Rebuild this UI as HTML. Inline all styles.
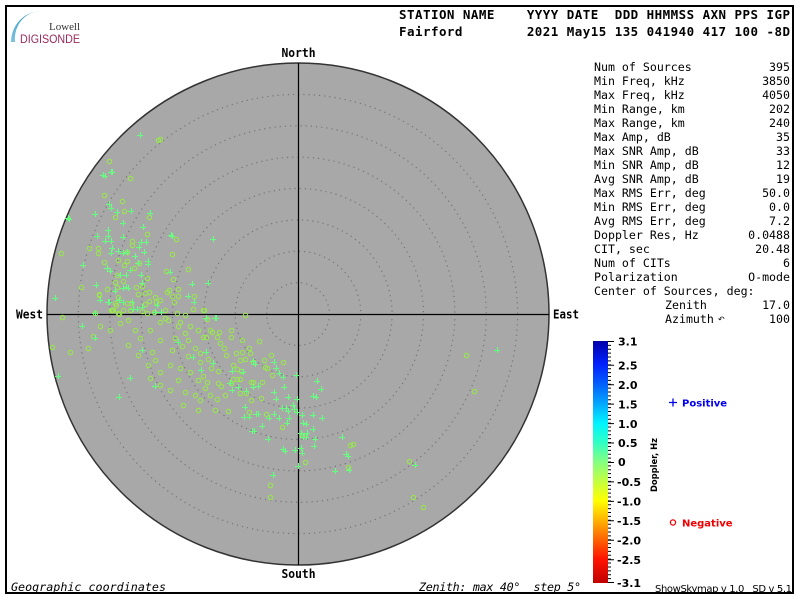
<!DOCTYPE html>
<html>
<head>
<meta charset="utf-8">
<style>
  html,body{margin:0;padding:0;background:#fff;}
  svg{display:block;}
  .pre{white-space:pre;}
</style>
</head>
<body>
<svg width="800" height="600" viewBox="0 0 800 600" xmlns="http://www.w3.org/2000/svg">
  <defs>
    <linearGradient id="cb" x1="0" y1="0" x2="0" y2="1">
      <stop offset="0" stop-color="#0000a8"/>
      <stop offset="0.097" stop-color="#0022ff"/>
      <stop offset="0.18" stop-color="#0062ff"/>
      <stop offset="0.26" stop-color="#00a8ff"/>
      <stop offset="0.34" stop-color="#00f4ff"/>
      <stop offset="0.42" stop-color="#30ffc4"/>
      <stop offset="0.5" stop-color="#84ff80"/>
      <stop offset="0.58" stop-color="#c4ff40"/>
      <stop offset="0.66" stop-color="#ffff00"/>
      <stop offset="0.74" stop-color="#ffb400"/>
      <stop offset="0.82" stop-color="#ff6400"/>
      <stop offset="0.9" stop-color="#ff1400"/>
      <stop offset="1" stop-color="#c00000"/>
    </linearGradient>
    <linearGradient id="arcg" x1="0" y1="1" x2="1" y2="0">
      <stop offset="0" stop-color="#7fc4e0"/>
      <stop offset="1" stop-color="#1f86b8"/>
    </linearGradient>
    <marker id="mc" markerWidth="8" markerHeight="8" refX="4" refY="4" markerUnits="userSpaceOnUse" overflow="visible">
      <path d="M1 4.5h6M4.5 1v6" fill="none" stroke="#66ff80" stroke-width="1.1"/>
    </marker>
    <marker id="mo" markerWidth="8" markerHeight="8" refX="4" refY="4" markerUnits="userSpaceOnUse" overflow="visible">
      <circle cx="4.5" cy="4.5" r="2.2" fill="none" stroke="#99e650" stroke-width="1.1"/>
    </marker>
  </defs>

  <rect x="0" y="0" width="800" height="600" fill="#fff"/>
  <!-- frame -->
  <rect x="6" y="6" width="787" height="587" fill="none" stroke="#000" stroke-width="2"/>

  <!-- logo -->
  <path d="M11 42 A31 31 0 0 1 40 11 A26 28 0 0 0 15 42 Z" fill="url(#arcg)"/>
  <text x="49" y="30" font-family="Liberation Serif, serif" font-size="11" fill="#333" textLength="31">Lowell</text>
  <text x="20" y="43" font-family="Liberation Sans, sans-serif" font-size="11.5" fill="#992a5e" textLength="60" lengthAdjust="spacingAndGlyphs">DIGISONDE</text>

  <!-- header -->
  <text class="pre" x="399" y="19" font-family="DejaVu Sans Mono, Liberation Mono, monospace" font-weight="bold" font-size="12.5" fill="#000" textLength="391" lengthAdjust="spacing">STATION NAME    YYYY DATE  DDD HHMMSS AXN PPS IGP</text>
  <text class="pre" x="399" y="36" font-family="DejaVu Sans Mono, Liberation Mono, monospace" font-weight="bold" font-size="12.5" fill="#000" textLength="391" lengthAdjust="spacing">Fairford        2021 May15 135 041940 417 100 -8D</text>

  <!-- plot circle -->
  <circle cx="298" cy="314" r="251" fill="#a8a8a8" stroke="#333" stroke-width="1.5"/>
  <g fill="none" stroke="#747474" stroke-width="1.2" stroke-dasharray="1.2 4">
    <circle cx="298" cy="314" r="31.4"/>
    <circle cx="298" cy="314" r="62.75"/>
    <circle cx="298" cy="314" r="94.1"/>
    <circle cx="298" cy="314" r="125.5"/>
    <circle cx="298" cy="314" r="156.9"/>
    <circle cx="298" cy="314" r="188.25"/>
    <circle cx="298" cy="314" r="219.6"/>
  </g>
  <line x1="298.5" y1="63" x2="298.5" y2="565" stroke="#000" stroke-width="1.2"/>
  <line x1="47" y1="314.5" x2="549" y2="314.5" stroke="#000" stroke-width="1.2"/>

  <!-- circles (negative doppler style markers) -->
  <polyline fill="none" stroke="none" marker-start="url(#mo)" marker-mid="url(#mo)" marker-end="url(#mo)" points="
  158,140 466,355 474,391 409,461 413,497 423,507 270,485 270,497 350,445 348,467 70,352 88,348 52,347
  160,139 109,161 130,178 104,195 122,201 124,211 115,217 149,217 147,234 176,239 89,248 98,248 98,253 132,241 132,245 127,252 172,254 61,253 104,262 118,260 127,261 124,265 139,263 134,268 188,269 166,271 117,275 115,282 123,281 117,287 147,278 173,279 142,286 81,287 136,287 167,292 169,290 178,289 99,294 107,289 138,294 145,293 149,292 155,297 172,296 178,296 194,296 118,297 127,303 131,303 115,303 160,300 156,302 174,302 149,301 145,304 111,310 113,310 123,310 119,314 142,311 147,313 165,310 154,312 177,313 204,310 193,309 62,317
  99,295 95,313 112,310 116,305 118,313
  203,310 245,315 207,319 210,330 212,332 219,332 231,330 203,337 206,337 217,337 231,337 242,340 259,341 220,343 200,353 224,348 226,355 236,353 242,352 249,348 250,353 271,355 240,360 245,359 253,362 264,360 283,362 208,359 211,368 218,371 200,362 233,365 237,369 241,371 265,367 267,368 272,375 233,379 237,379 240,379 231,383 203,376 207,382 218,383 221,386 251,382 253,382 262,382 246,393 240,393 217,399 251,400 261,398 228,411 249,412 266,414 282,427 302,435 353,444 305,462
  128,320 135,330 150,330 160,322 168,320 180,322 190,326 185,333 175,338 160,340 140,338 172,350 182,346 188,356 195,348 155,360 170,365 180,368 190,372 198,380 178,380 160,385 150,378 210,395 198,410 183,405 215,410 120,323 110,330 100,326 93,336 165,318 178,326 128,345 138,355 148,365 160,372 185,392 195,395 205,388 130,310 152,352 170,390 200,400 225,395 188,340 198,330 185,315"/>

  <!-- crosses -->
  <polyline fill="none" stroke="none" marker-start="url(#mc)" marker-mid="url(#mc)" marker-end="url(#mc)" points="
  140,135 103,175 112,172 68,218 55,298 58,376 497,350 415,465 298,466
  111,172 105,176 69,219 109,204 111,208 117,212 95,214 131,211 150,213 123,223 143,227 108,230 97,236 108,236 123,237 171,235 213,239 105,241 111,241 141,242 146,242 139,247 112,248 118,251 123,253 144,252 111,253 127,252 135,256 83,265 148,261 148,264 138,263 107,268 110,271 130,270 120,275 126,275 141,275 170,272 192,284 208,283 96,285 142,283 126,287 128,288 188,296 194,302 100,300 109,302 119,300 123,302 132,302 142,307 133,309 137,309 157,305 95,313 155,312 161,312 216,318 206,318 115,291 123,288
  108,302 82,326 95,338
  215,318 296,375 317,381 321,389 274,362 276,368 279,373 283,377 284,387 274,392 276,399 288,397 297,399 313,396 316,397 253,361 255,364 243,372 232,371 213,363 201,370 230,383 238,387 246,391 253,387 258,386 232,390 245,407 244,417 249,417 256,414 258,414 269,418 274,414 279,418 289,418 282,408 286,408 288,411 293,405 294,409 297,412 302,415 303,423 306,424 313,415 322,418 262,426 287,423 313,429 252,431 254,431 268,439 301,433 303,437 306,437 307,433 315,439 342,437 314,446 283,449 285,451 295,450 301,448 302,453 346,454 348,456 273,475 335,471 349,470
  130,378 119,397 155,386 142,350 178,342 206,352 193,357 172,236"/>

  <!-- compass labels -->
  <text x="298.5" y="57" text-anchor="middle" font-family="DejaVu Sans Mono, monospace" font-weight="bold" font-size="12.5" textLength="34" lengthAdjust="spacingAndGlyphs">North</text>
  <text x="298.5" y="578" text-anchor="middle" font-family="DejaVu Sans Mono, monospace" font-weight="bold" font-size="12.5" textLength="34" lengthAdjust="spacingAndGlyphs">South</text>
  <text x="16" y="318.5" font-family="DejaVu Sans Mono, monospace" font-weight="bold" font-size="12.5" textLength="27" lengthAdjust="spacingAndGlyphs">West</text>
  <text x="553" y="318.5" font-family="DejaVu Sans Mono, monospace" font-weight="bold" font-size="12.5" textLength="26" lengthAdjust="spacingAndGlyphs">East</text>

  <!-- bottom labels -->
  <text x="11" y="591" font-family="DejaVu Sans Mono, Liberation Mono, monospace" font-style="italic" font-size="11.7" textLength="155" lengthAdjust="spacing">Geographic coordinates</text>
  <text class="pre" x="419" y="591" font-family="DejaVu Sans Mono, Liberation Mono, monospace" font-style="italic" font-size="11.7" textLength="162" lengthAdjust="spacing">Zenith: max 40°  step 5°</text>
  <text class="pre" x="655" y="592" font-family="DejaVu Sans, Liberation Sans, sans-serif" font-size="10" textLength="137" lengthAdjust="spacing">ShowSkymap v 1.0   SD v 5.1</text>

  <!-- stats -->
  <g font-family="DejaVu Sans Mono, Liberation Mono, monospace" font-size="11.6" fill="#000">
    <text x="594" y="71">Num of Sources</text><text x="790" y="71" text-anchor="end">395</text>
    <text x="594" y="85">Min Freq, kHz</text><text x="790" y="85" text-anchor="end">3850</text>
    <text x="594" y="99">Max Freq, kHz</text><text x="790" y="99" text-anchor="end">4050</text>
    <text x="594" y="113">Min Range, km</text><text x="790" y="113" text-anchor="end">202</text>
    <text x="594" y="127">Max Range, km</text><text x="790" y="127" text-anchor="end">240</text>
    <text x="594" y="141">Max Amp, dB</text><text x="790" y="141" text-anchor="end">35</text>
    <text x="594" y="155">Max SNR Amp, dB</text><text x="790" y="155" text-anchor="end">33</text>
    <text x="594" y="169">Min SNR Amp, dB</text><text x="790" y="169" text-anchor="end">12</text>
    <text x="594" y="183">Avg SNR Amp, dB</text><text x="790" y="183" text-anchor="end">19</text>
    <text x="594" y="197">Max RMS Err, deg</text><text x="790" y="197" text-anchor="end">50.0</text>
    <text x="594" y="211">Min RMS Err, deg</text><text x="790" y="211" text-anchor="end">0.0</text>
    <text x="594" y="225">Avg RMS Err, deg</text><text x="790" y="225" text-anchor="end">7.2</text>
    <text x="594" y="239">Doppler Res, Hz</text><text x="790" y="239" text-anchor="end">0.0488</text>
    <text x="594" y="253">CIT, sec</text><text x="790" y="253" text-anchor="end">20.48</text>
    <text x="594" y="267">Num of CITs</text><text x="790" y="267" text-anchor="end">6</text>
    <text x="594" y="281">Polarization</text><text x="790" y="281" text-anchor="end">O-mode</text>
    <text x="594" y="295">Center of Sources, deg:</text>
    <text x="665" y="309">Zenith</text><text x="790" y="309" text-anchor="end">17.0</text>
    <text x="665" y="323">Azimuth</text><text x="790" y="323" text-anchor="end">100</text>
  </g>
  <text x="718" y="322" font-family="DejaVu Sans, sans-serif" font-size="8" fill="#000">↶</text>

  <!-- colorbar -->
  <rect x="593" y="341" width="15" height="242" fill="url(#cb)"/>
  <line x1="609.5" y1="341" x2="609.5" y2="584" stroke="#000" stroke-width="3" stroke-dasharray="1 2.887"/>
  <path stroke="#000" stroke-width="1" d="
   M608 341.5 h6 M608 365.3 h6 M608 384.7 h6 M608 404.1 h6 M608 423.6 h6 M608 443 h6
   M608 462.5 h6 M608 481.9 h6 M608 501.4 h6 M608 520.8 h6 M608 540.2 h6 M608 559.7 h6 M608 582.5 h6"/>
  <g font-family="DejaVu Sans, Liberation Sans, sans-serif" font-weight="bold" font-size="11" fill="#000">
    <text x="618" y="345.5">3.1</text>
    <text x="618" y="369.5">2.5</text>
    <text x="618" y="389">2.0</text>
    <text x="618" y="408.5">1.5</text>
    <text x="618" y="428">1.0</text>
    <text x="618" y="447">0.5</text>
    <text x="618" y="466">0</text>
    <text x="617" y="486">-0.5</text>
    <text x="617" y="505.5">-1.0</text>
    <text x="617" y="525">-1.5</text>
    <text x="617" y="544.5">-2.0</text>
    <text x="617" y="564">-2.5</text>
    <text x="617" y="587">-3.1</text>
  </g>
  <text transform="translate(657,492) rotate(-90)" font-family="DejaVu Sans, Liberation Sans, sans-serif" font-weight="bold" font-size="9" textLength="54" lengthAdjust="spacingAndGlyphs">Doppler, Hz</text>

  <!-- legend -->
  <path d="M669 402.5 h8 M673 398.5 v8" stroke="#0000ee" stroke-width="1.3"/>
  <text x="682" y="406.5" font-family="DejaVu Sans, Liberation Sans, sans-serif" font-weight="bold" font-size="10" fill="#0000ee">Positive</text>
  <circle cx="673" cy="522.5" r="2.6" fill="none" stroke="#ee0000" stroke-width="1.3"/>
  <text x="682" y="526.5" font-family="DejaVu Sans, Liberation Sans, sans-serif" font-weight="bold" font-size="10" fill="#ee0000">Negative</text>
</svg>
</body>
</html>
